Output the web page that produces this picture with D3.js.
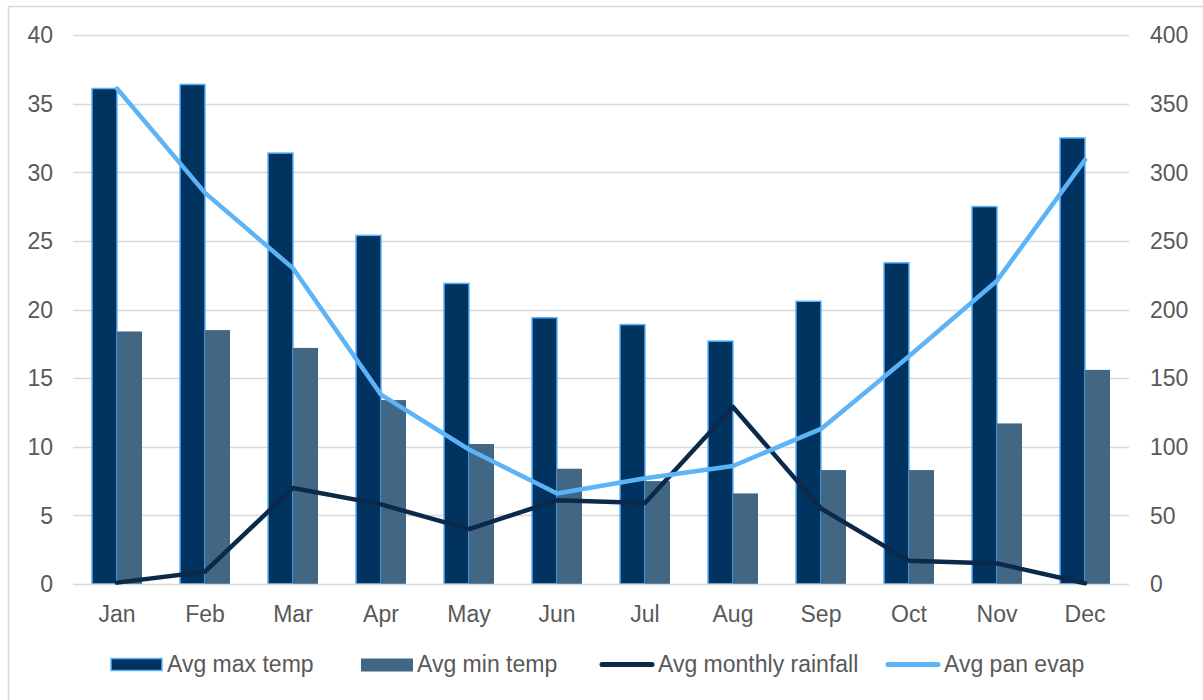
<!DOCTYPE html>
<html>
<head>
<meta charset="utf-8">
<script src="https://cdn.jsdelivr.net/npm/d3@7"></script>
<style>
  body { margin: 0; background: #fff; }
  svg { display: block; font-family: "Liberation Sans", Arial, sans-serif; }
</style>
</head>
<body>
<svg id="chart" width="1203" height="700"></svg>
<script>
const months = ["Jan","Feb","Mar","Apr","May","Jun","Jul","Aug","Sep","Oct","Nov","Dec"];
const maxTemp = [36.1, 36.4, 31.4, 25.4, 21.9, 19.4, 18.9, 17.7, 20.6, 23.4, 27.5, 32.5];
const minTemp = [18.4, 18.5, 17.2, 13.4, 10.2, 8.4, 7.5, 6.6, 8.3, 8.3, 11.7, 15.6];
const rainfall = [1, 9, 70, 58, 40, 61, 59, 129, 55, 17, 15, 0.5];
const panEvap = [361, 285, 230, 138, 98, 66, 77, 86, 113, 166, 221, 309];
const leftTicks = [0, 5, 10, 15, 20, 25, 30, 35, 40];
const rightTicks = [0, 50, 100, 150, 200, 250, 300, 350, 400];
const seriesNames = ["Avg max temp", "Avg min temp", "Avg monthly rainfall", "Avg pan evap"];

const svg = d3.select("#chart");
const textColor = "#595959";
const gridColor = "#d9d9d9";
const fontSize = 23;
const cMax = "#00335f", cMaxBorder = "#5bb5fb", cMin = "#416785", cRain = "#0b2a4a", cEvap = "#5cb4f7";

// outer chart border
svg.append("rect").attr("x", 8.5).attr("y", 6.5).attr("width", 1203).attr("height", 700)
  .attr("fill", "none").attr("stroke", "#d9d9d9").attr("stroke-width", 1.5);

const plot = { left: 73, right: 1129, top: 35, bottom: 584 };

const x = d3.scaleBand().domain(months).range([plot.left, plot.right]).paddingInner(0).paddingOuter(0);
const yL = d3.scaleLinear().domain([0, 40]).range([plot.bottom, plot.top]);
const yR = d3.scaleLinear().domain([0, 400]).range([plot.bottom, plot.top]);

// gridlines
svg.append("g").selectAll("line").data(leftTicks.filter(d => d > 0)).join("line")
  .attr("x1", plot.left).attr("x2", plot.right)
  .attr("y1", d => Math.round(yL(d)) + 0.5).attr("y2", d => Math.round(yL(d)) + 0.5)
  .attr("stroke", gridColor).attr("stroke-width", 1.5);

// left axis labels
svg.append("g").selectAll("text").data(leftTicks).join("text")
  .attr("x", 53).attr("y", d => yL(d)).attr("dy", "0.36em")
  .attr("text-anchor", "end").attr("fill", textColor).attr("font-size", fontSize)
  .text(d => d);

// right axis labels (left aligned)
svg.append("g").selectAll("text").data(rightTicks).join("text")
  .attr("x", 1150).attr("y", d => yR(d)).attr("dy", "0.36em")
  .attr("text-anchor", "start").attr("fill", textColor).attr("font-size", fontSize)
  .text(d => d);

// bars
const barW = 25;
const bars = svg.append("g");
bars.selectAll("rect.max").data(months).join("rect").attr("class", "max")
  .attr("x", d => x(d) + x.bandwidth() / 2 - barW)
  .attr("y", (d, i) => yL(maxTemp[i]))
  .attr("width", barW)
  .attr("height", (d, i) => yL(0) - yL(maxTemp[i]))
  .attr("fill", cMax).attr("stroke", cMaxBorder).attr("stroke-width", 1.5);
bars.selectAll("rect.min").data(months).join("rect").attr("class", "min")
  .attr("x", d => x(d) + x.bandwidth() / 2)
  .attr("y", (d, i) => yL(minTemp[i]))
  .attr("width", barW)
  .attr("height", (d, i) => yL(0) - yL(minTemp[i]))
  .attr("fill", cMin);

// x axis baseline
svg.append("line").attr("x1", plot.left).attr("x2", plot.right)
  .attr("y1", plot.bottom + 0.5).attr("y2", plot.bottom + 0.5)
  .attr("stroke", gridColor).attr("stroke-width", 1.5);

// month labels
svg.append("g").selectAll("text").data(months).join("text")
  .attr("x", d => x(d) + x.bandwidth() / 2).attr("y", 622)
  .attr("text-anchor", "middle").attr("fill", textColor).attr("font-size", fontSize)
  .text(d => d);

// lines
const lineGen = vals => d3.line()
  .x((d, i) => x(months[i]) + x.bandwidth() / 2)
  .y(d => yR(d))(vals);
svg.append("path").attr("d", lineGen(rainfall)).attr("fill", "none")
  .attr("stroke", cRain).attr("stroke-width", 4.5).attr("stroke-linejoin", "round").attr("stroke-linecap", "round");
svg.append("path").attr("d", lineGen(panEvap)).attr("fill", "none")
  .attr("stroke", cEvap).attr("stroke-width", 4.5).attr("stroke-linejoin", "round").attr("stroke-linecap", "round");

// legend
const legend = svg.append("g");
const legY = 664.5;
const legX = [111, 361, 602, 888];
legend.append("rect").attr("x", legX[0]).attr("y", legY - 6).attr("width", 51).attr("height", 12)
  .attr("fill", cMax).attr("stroke", cMaxBorder).attr("stroke-width", 1.5);
legend.append("rect").attr("x", legX[1]).attr("y", legY - 6).attr("width", 52).attr("height", 13)
  .attr("fill", cMin);
legend.append("line").attr("x1", legX[2]).attr("x2", legX[2] + 50).attr("y1", legY).attr("y2", legY)
  .attr("stroke", cRain).attr("stroke-width", 5).attr("stroke-linecap", "round");
legend.append("line").attr("x1", legX[3]).attr("x2", legX[3] + 50).attr("y1", legY).attr("y2", legY)
  .attr("stroke", cEvap).attr("stroke-width", 5).attr("stroke-linecap", "round");
legend.selectAll("text").data(seriesNames).join("text")
  .attr("x", (d, i) => legX[i] + 56).attr("y", 672)
  .attr("fill", textColor).attr("font-size", fontSize).text(d => d);
</script>
</body>
</html>
